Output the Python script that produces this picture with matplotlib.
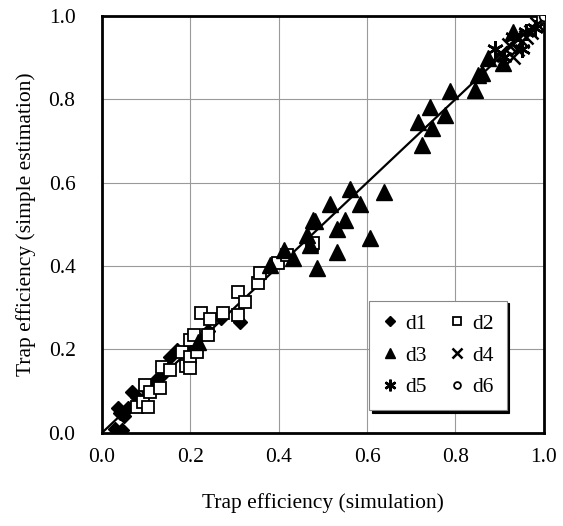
import matplotlib

matplotlib.use("Agg")
import matplotlib.pyplot as plt

# d1: filled diamonds (small values along the 1:1 line)
d1_x = [0.030, 0.036, 0.040, 0.045, 0.050, 0.060, 0.068, 0.080, 0.100, 0.120,
        0.135, 0.154, 0.170, 0.198, 0.217, 0.240, 0.270, 0.312]
d1_y = [0.010, 0.060, 0.048, 0.007, 0.040, 0.060, 0.098, 0.085, 0.105, 0.125,
        0.140, 0.182, 0.199, 0.205, 0.228, 0.245, 0.275, 0.266]

# d2: open squares
d2_x = [0.079, 0.093, 0.097, 0.104, 0.109, 0.131, 0.136, 0.154, 0.181, 0.190,
        0.199, 0.199, 0.199, 0.215, 0.208, 0.224, 0.240, 0.244, 0.274, 0.308,
        0.308, 0.324, 0.353, 0.357, 0.398, 0.418, 0.475, 0.477, 0.998]
d2_y = [0.062, 0.074, 0.115, 0.062, 0.098, 0.108, 0.158, 0.151, 0.194, 0.160,
        0.182, 0.156, 0.223, 0.194, 0.235, 0.288, 0.235, 0.273, 0.288, 0.338,
        0.283, 0.314, 0.360, 0.384, 0.408, 0.427, 0.451, 0.456, 0.998]

# d3: filled triangles
d3_x = [0.217, 0.380, 0.412, 0.432, 0.464, 0.471, 0.477, 0.482, 0.486, 0.516,
        0.532, 0.532, 0.550, 0.561, 0.584, 0.606, 0.638, 0.715, 0.724, 0.742,
        0.747, 0.776, 0.787, 0.844, 0.850, 0.860, 0.874, 0.907, 0.930]
d3_y = [0.218, 0.403, 0.439, 0.420, 0.475, 0.451, 0.511, 0.508, 0.396, 0.549,
        0.489, 0.434, 0.511, 0.585, 0.549, 0.468, 0.578, 0.746, 0.691, 0.782,
        0.731, 0.763, 0.820, 0.823, 0.858, 0.863, 0.899, 0.887, 0.962]

# d4: crosses
d4_x = [0.900, 0.920, 0.930, 0.940, 0.950, 0.960, 0.970, 0.985]
d4_y = [0.910, 0.930, 0.900, 0.920, 0.940, 0.950, 0.960, 0.980]

# d5: asterisks
d5_x = [0.890, 0.910, 0.930, 0.950, 0.960, 0.980]
d5_y = [0.920, 0.900, 0.950, 0.920, 0.960, 0.970]

# d6: open circle
d6_x = [1.0]
d6_y = [1.0]

LINE_X = [0.0, 1.0]
LINE_Y = [0.0, 1.0]
TICKS = [0.0, 0.2, 0.4, 0.6, 0.8, 1.0]

plt.rcParams["font.family"] = ["Liberation Serif", "DejaVu Serif"]

fig = plt.figure(figsize=(5.63, 5.26), dpi=100)
ax = fig.add_axes([0.181, 0.177, 0.785, 0.793])

ax.plot(LINE_X, LINE_Y, color="black", lw=1.6, zorder=2)

h1, = ax.plot(d1_x, d1_y, "D", ms=7, color="black", ls="none", label="d1", zorder=3)
h2, = ax.plot(d2_x, d2_y, "s", ms=9, mfc="white", mec="black", mew=1.3, ls="none",
              label="d2", zorder=3)
h3, = ax.plot(d3_x, d3_y, "^", ms=11, color="black", ls="none", label="d3", zorder=3)
h4, = ax.plot(d4_x, d4_y, "x", ms=10.5, color="black", mew=1.8, ls="none",
              label="d4", zorder=3)
h5, = ax.plot(d5_x, d5_y, marker=(6, 2, 0), ms=12, color="black", mew=1.8,
              ls="none", label="d5", zorder=3)
h6, = ax.plot(d6_x, d6_y, "o", ms=7, mfc="white", mec="black", mew=1.3, ls="none",
              label="d6", zorder=4)

ax.set_xlim(0, 1)
ax.set_ylim(0, 1)
ax.set_xticks(TICKS)
ax.set_yticks(TICKS)
ax.set_xticklabels([f"{t:.1f}" for t in TICKS])
ax.set_yticklabels([f"{t:.1f}" for t in TICKS])
ax.tick_params(axis="x", length=0, pad=11, labelsize=15.5)
ax.tick_params(axis="y", length=0, pad=19, labelsize=15.5)
ax.grid(True, color="#9a9a9a", lw=0.8)
ax.set_axisbelow(True)
for sp in ax.spines.values():
    sp.set_linewidth(2)
    sp.set_color("black")

ax.set_xlabel("Trap efficiency (simulation)", fontsize=15.5)
ax.set_ylabel("Trap efficiency (simple estimation)", fontsize=15.5)
ax.xaxis.set_label_coords(0.5, -0.145)
ax.yaxis.set_label_coords(-0.15, 0.5)

# row-wise order: d1 d2 / d3 d4 / d5 d6
handles = [h1, h3, h5, h2, h4, h6]
leg = ax.legend(handles, [h.get_label() for h in handles], ncol=2,
                loc="upper left", bbox_to_anchor=(0.604, 0.317), borderaxespad=0,
                fontsize=15.5, markerscale=0.7, handlelength=0.8,
                handletextpad=0.3, columnspacing=1.0, labelspacing=0.55,
                borderpad=0.6, fancybox=False, framealpha=1,
                shadow={"color": "black", "alpha": 1}, edgecolor="#888888")
leg.get_frame().set_linewidth(0.8)

fig.savefig("out.png", dpi=100)
